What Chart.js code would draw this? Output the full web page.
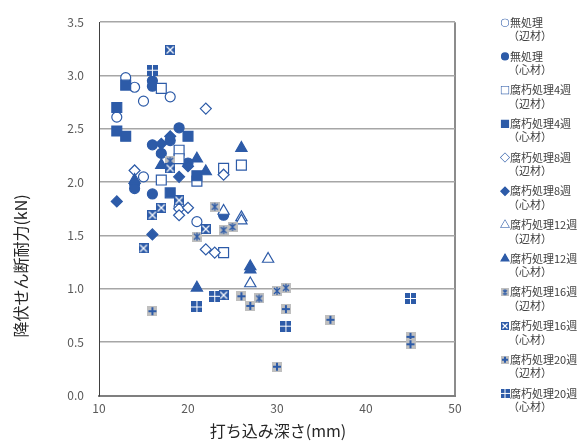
<!DOCTYPE html>
<html>
<head>
<meta charset="utf-8">
<script src="https://cdn.jsdelivr.net/npm/chart.js@4.4.0/dist/chart.umd.min.js"></script>
<style>
html, body { margin: 0; padding: 0; background: #fff; }
#wrap { width: 581px; height: 441px; position: relative; }
</style>
</head>
<body>
<div id="wrap"><canvas id="chart" width="581" height="441"></canvas></div>
<script>
// series labels (two lines each)
const seriesNames = [
    ['無処理', '（辺材）'], ['無処理', '（心材）'],
    ['腐朽処理4週', '（辺材）'], ['腐朽処理4週', '（心材）'],
    ['腐朽処理8週', '（辺材）'], ['腐朽処理8週', '（心材）'],
    ['腐朽処理12週', '（辺材）'], ['腐朽処理12週', '（心材）'],
    ['腐朽処理16週', '（辺材）'], ['腐朽処理16週', '（心材）'],
    ['腐朽処理20週', '（辺材）'], ['腐朽処理20週', '（心材）']
];

// [depth mm, yield shear strength kN]
const untreatedSap = [[13,2.98],[14,2.89],[15,2.76],[18,2.80],[12,2.61],[15,2.05],[19,1.77],[21,1.63]];
const untreatedHeart = [[16,2.95],[16,2.90],[19,2.51],[18,2.39],[16,2.35],[17,2.27],[20,2.18],[14,1.98],[14,1.94],[16,1.89],[24,1.69]];
const week4Sap = [[17,2.88],[19,2.30],[19,2.22],[17,2.02],[21,2.01],[24,2.13],[26,2.16],[24,1.34]];
const week4Heart = [[13,2.91],[12,2.70],[12,2.48],[13,2.43],[20,2.43],[21,2.06],[18,1.90]];
const week8Sap = [[22,2.69],[14,2.11],[24,2.07],[19,1.75],[20,1.76],[19,1.69],[22,1.37],[23,1.34]];
const week8Heart = [[18,2.43],[17,2.36],[20,2.15],[19,2.05],[12,1.82],[16,1.51]];
const week12Sap = [[24,1.73],[26,1.67],[26,1.64],[29,1.28],[27,1.05]];
const week12Heart = [[14,2.02],[17,2.16],[21,2.22],[22,2.10],[26,2.32],[27,1.21],[27,1.18],[21,1.01]];
const week16Sap = [[18,2.20],[23,1.77],[21,1.49],[24,1.55],[25,1.58],[28,0.91],[30,0.98],[31,1.01]];
const week16Heart = [[18,3.24],[18,2.13],[19,1.83],[17,1.76],[16,1.69],[22,1.56],[15,1.38],[24,0.94]];
const week20Sap = [[16,0.79],[26,0.93],[27,0.84],[30,0.27],[31,0.81],[36,0.71],[45,0.55],[45,0.48]];
const week20Heart = [[16,3.05],[23,0.93],[21,0.83],[31,0.65],[45,0.91]];

const xTicks = [10, 20, 30, 40, 50];
const yTicks = [0, 0.5, 1.0, 1.5, 2.0, 2.5, 3.0, 3.5];

const BLUE = '#2d5ba8';
const GRAY = '#bfbfbf';
const FONT = '"Noto Sans CJK JP", "Noto Sans", sans-serif';

// special markers drawn on small canvases
function makeMarker(kind, s) {
    var cv = document.createElement('canvas');
    cv.width = s; cv.height = s;
    var g = cv.getContext('2d');
    var m = s / 2;
    if (kind == 'ast') {
        g.fillStyle = GRAY; g.fillRect(0, 0, s, s);
        g.strokeStyle = BLUE; g.lineWidth = 1.3;
        g.beginPath();
        g.moveTo(2, 2); g.lineTo(s - 2, s - 2);
        g.moveTo(s - 2, 2); g.lineTo(2, s - 2);
        g.moveTo(m, 1); g.lineTo(m, s - 1);
        g.stroke();
    } else if (kind == 'xbox') {
        g.fillStyle = BLUE; g.fillRect(0, 0, s, s);
        g.strokeStyle = '#fff'; g.lineWidth = 1.2;
        g.beginPath();
        g.moveTo(1.5, 1.5); g.lineTo(s - 1.5, s - 1.5);
        g.moveTo(s - 1.5, 1.5); g.lineTo(1.5, s - 1.5);
        g.stroke();
    } else if (kind == 'plus') {
        g.fillStyle = GRAY; g.fillRect(0, 0, s, s);
        g.fillStyle = BLUE;
        g.fillRect(m - 1, 1, 2, s - 2);
        g.fillRect(1, m - 1, s - 2, 2);
    } else if (kind == 'pbox') {
        g.fillStyle = BLUE; g.fillRect(0, 0, s, s);
        g.fillStyle = '#fff';
        g.fillRect(Math.floor(m), 0, 1, s);
        g.fillRect(0, Math.floor(m), s, 1);
    }
    return cv;
}

const styles = [
    { pt: 'circle', r: 5, fill: '#fff' },
    { pt: 'circle', r: 5, fill: BLUE },
    { pt: 'rect', r: 7, fill: '#fff' },
    { pt: 'rect', r: 7, fill: BLUE },
    { pt: 'rectRot', r: 5.5, fill: '#fff' },
    { pt: 'rectRot', r: 5.5, fill: BLUE },
    { pt: 'triangle', r: 6.5, fill: '#fff' },
    { pt: 'triangle', r: 6.5, fill: BLUE },
    { pt: makeMarker('ast', 10), r: 5, legend: makeMarker('ast', 8) },
    { pt: makeMarker('xbox', 10), r: 5, legend: makeMarker('xbox', 8) },
    { pt: makeMarker('plus', 10), r: 5, legend: makeMarker('plus', 8) },
    { pt: makeMarker('pbox', 11), r: 5, legend: makeMarker('pbox', 9) }
];

const allSeries = [untreatedSap, untreatedHeart, week4Sap, week4Heart, week8Sap, week8Heart,
    week12Sap, week12Heart, week16Sap, week16Heart, week20Sap, week20Heart];

var datasets = allSeries.map(function(arr, i) {
    return {
        label: seriesNames[i].join(''),
        data: arr.map(function(p) { return { x: p[0], y: p[1] }; }),
        pointStyle: styles[i].pt,
        pointRadius: styles[i].r,
        pointBackgroundColor: styles[i].fill || BLUE,
        pointBorderColor: BLUE,
        pointBorderWidth: 1.2,
        order: 11 - i
    };
});

// legend + axis titles
var extras = {
    id: 'extras',
    afterDraw: function(chart) {
        var ctx = chart.ctx;
        ctx.save();
        for (var i = 0; i < seriesNames.length; i++) {
            var y = 22.7 + i * 33.7;
            var st = styles[i];
            if (typeof st.pt === 'string') {
                var lr = { circle: 3.5, rect: 5, rectRot: 4.2, triangle: 4.6 }[st.pt];
                ctx.fillStyle = st.fill;
                ctx.strokeStyle = BLUE;
                ctx.lineWidth = 1.1;
                Chart.helpers.drawPoint(ctx, { pointStyle: st.pt, radius: lr, borderWidth: 1.1, rotation: 0 }, 505, y);
                ctx.fill();
            } else {
                ctx.drawImage(st.legend, 505 - st.legend.width / 2, y - st.legend.height / 2);
            }
            ctx.fillStyle = '#404040';
            ctx.font = '11px ' + FONT;
            ctx.textAlign = 'left';
            ctx.textBaseline = 'middle';
            ctx.fillText(seriesNames[i][0], 510, y);
            ctx.fillText(seriesNames[i][1], 508, y + 13.5);
        }
        ctx.fillStyle = '#262626';
        ctx.font = '16px ' + FONT;
        ctx.textAlign = 'center';
        ctx.textBaseline = 'middle';
        ctx.fillText('打ち込み深さ(mm)', 278, 431);
        ctx.translate(21, 266);
        ctx.rotate(-Math.PI / 2);
        ctx.fillText('降伏せん断耐力(kN)', 0, 0);
        ctx.restore();
    }
};

new Chart(document.getElementById('chart'), {
    type: 'scatter',
    data: { datasets: datasets },
    plugins: [extras],
    options: {
        responsive: false,
        animation: false,
        layout: { padding: { top: 17, right: 126, bottom: 0, left: 0 } },
        plugins: { legend: { display: false }, tooltip: { enabled: false } },
        scales: {
            x: {
                type: 'linear', min: 10, max: 50,
                afterBuildTicks: function(scale) { scale.ticks = xTicks.map(function(v) { return { value: v }; }); },
                afterFit: function(scale) { scale.height = 45.5; },
                ticks: { padding: 6, color: '#595959', font: { family: FONT, size: 12 } },
                grid: {
                    drawTicks: false,
                    lineWidth: 2,
                    color: function(c) { return c.tick && c.tick.value === 50 ? '#8c8c8c' : 'rgba(0,0,0,0)'; }
                },
                border: { display: true, color: '#7f7f7f', width: 2 }
            },
            y: {
                type: 'linear', min: 0, max: 3.5,
                afterBuildTicks: function(scale) { scale.ticks = yTicks.map(function(v) { return { value: v }; }); },
                afterFit: function(scale) { scale.width = 99; },
                ticks: {
                    padding: 15, color: '#595959', font: { family: FONT, size: 12 },
                    callback: function(v) { return v.toFixed(1); }
                },
                grid: { drawTicks: false, color: '#a6a6a6', lineWidth: 1.5 },
                border: { display: true, color: '#404040', width: 1 }
            }
        }
    }
});
</script>
</body>
</html>
